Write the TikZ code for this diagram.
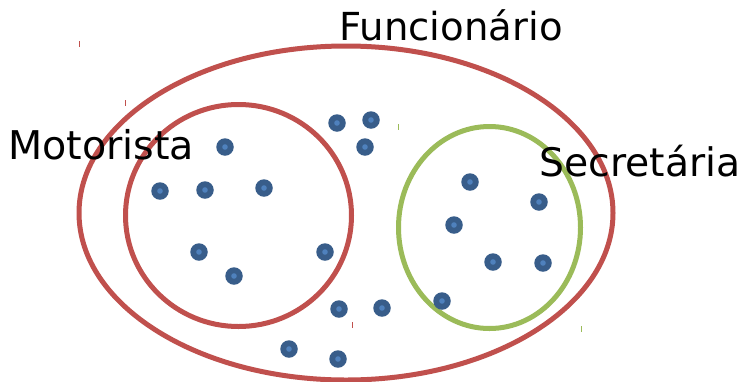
\documentclass[tikz,border=0pt]{standalone}
\usepackage{fontspec}
\setmainfont{DejaVu Sans}
\definecolor{setred}{HTML}{C0504D}
\definecolor{setgreen}{HTML}{9BBB59}
\definecolor{dotdark}{HTML}{385D8A}
\definecolor{dotlight}{HTML}{4F81BD}
\tikzset{
  setline/.style={line width=5pt},
  lbl/.style={anchor=base west, inner sep=0pt},
  elem/.style={circle, fill=dotdark, minimum size=17.5pt, inner sep=0pt,
    path picture={\fill[dotlight] (path picture bounding box.center) circle (2.8pt);}},
  tick/.style={line width=1pt}
}
\begin{document}
\begin{tikzpicture}[x=1pt,y=-1pt]
\useasboundingbox (0,0) rectangle (744,381);
% sets
\draw[setline, setred] (346,213) ellipse [x radius=267, y radius=167];
\draw[setline, setred] (238.5,215.5) ellipse [x radius=113, y radius=111];
\draw[setline, setgreen] (489.5,227.5) ellipse [x radius=91, y radius=101];
% tiny marks
\draw[tick, setred] (79,41) -- (79,47);
\draw[tick, setred] (125,100) -- (125,106);
\draw[tick, setred] (352,322) -- (352,328);
\draw[tick, setgreen] (398,124) -- (398,130);
\draw[tick, setgreen] (581,326) -- (581,332);
% labels
\node[lbl, font=\fontsize{38.6}{40}\selectfont] (fun) at (339.5,40) {Funcionário};
\node[lbl, font=\fontsize{39.6}{41}\selectfont] (mot) at (8,159.5) {Motorista};
\node[lbl, font=\fontsize{39.3}{41}\selectfont] (sec) at (539.2,176) {Secretária};
% elements
\node[elem] (e1) at (225,147) {};
\node[elem] (e2) at (160,191) {};
\node[elem] (e3) at (205,190) {};
\node[elem] (e4) at (264,188) {};
\node[elem] (e5) at (199,252) {};
\node[elem] (e6) at (234,276) {};
\node[elem] (e7) at (325,252) {};
\node[elem] (e8) at (337,123) {};
\node[elem] (e9) at (371,120) {};
\node[elem] (e10) at (365,147) {};
\node[elem] (e11) at (339,309) {};
\node[elem] (e12) at (382,308) {};
\node[elem] (e13) at (289,349) {};
\node[elem] (e14) at (338,359) {};
\node[elem] (e15) at (470,182) {};
\node[elem] (e16) at (539,202) {};
\node[elem] (e17) at (454,225) {};
\node[elem] (e18) at (493,262) {};
\node[elem] (e19) at (543,263) {};
\node[elem] (e20) at (442,301) {};
\end{tikzpicture}
\end{document}
